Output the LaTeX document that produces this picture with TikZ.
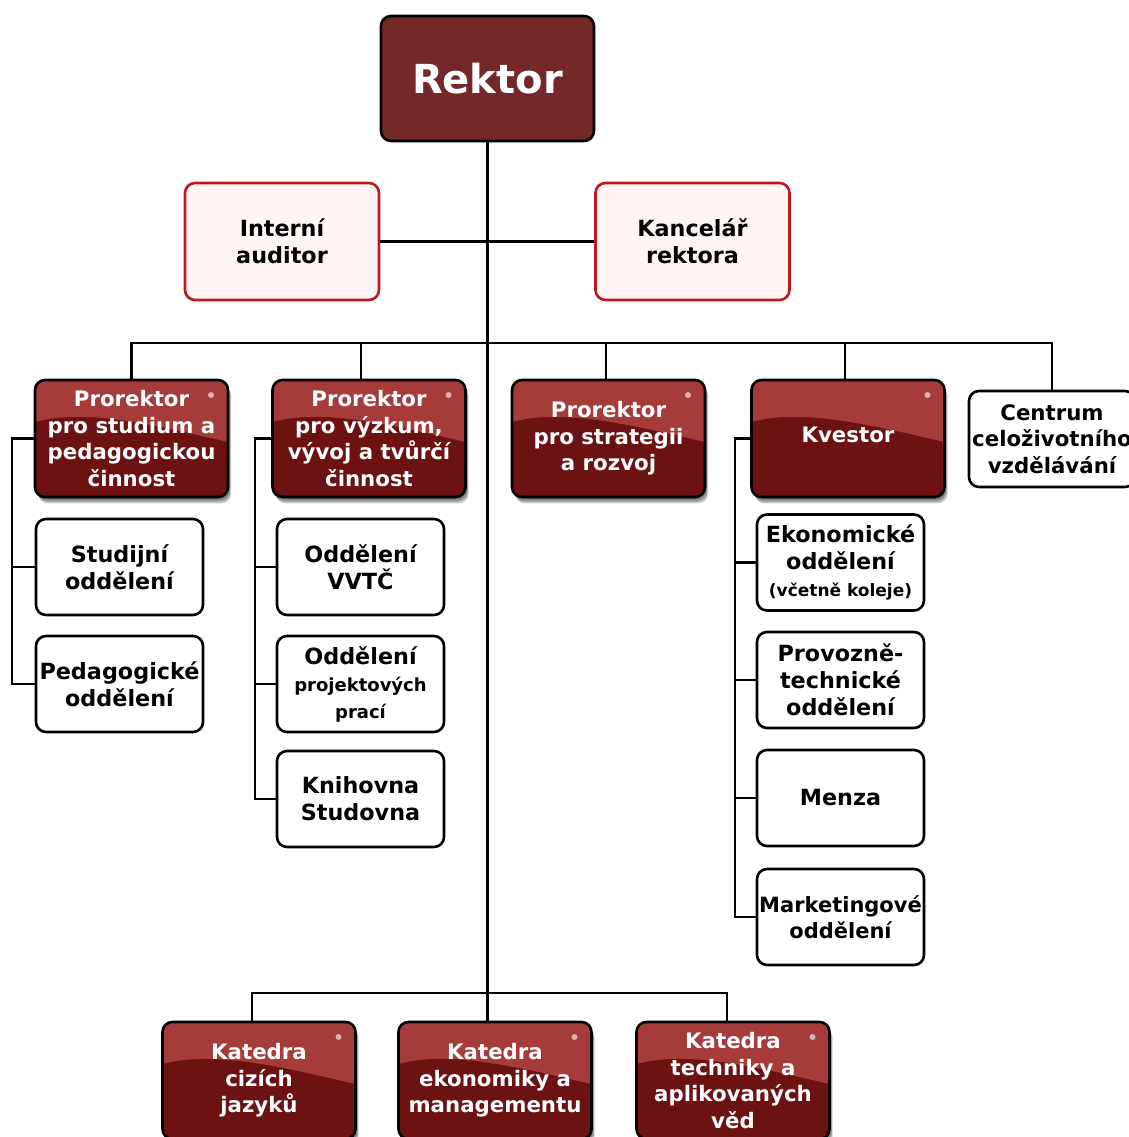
\documentclass[tikz,border=0pt]{standalone}
\usepackage{fontspec}
\setmainfont{DejaVu Sans}
\definecolor{rekred}{HTML}{742828}
\definecolor{glosstop}{HTML}{A63B3B}
\definecolor{glossbot}{HTML}{6C1212}
\definecolor{audred}{HTML}{BE181C}
\definecolor{audfill}{HTML}{FFF5F5}
\tikzset{
  base/.style={rounded corners=10pt, line width=2.6pt, inner sep=0pt, align=center,
    font=\bfseries\fontsize{22.3}{27}\selectfont},
  whitebox/.style={base, draw=black, fill=white, minimum width=167pt, minimum height=96pt},
  audbox/.style={base, draw=audred, fill=audfill, minimum width=194pt, minimum height=117pt},
  rektorbox/.style={base, draw=black, fill=rekred, text=white, minimum width=213pt, minimum height=125pt,
    font=\bfseries\fontsize{40}{48}\selectfont},
  glossbox/.style={base, draw=black, text=white, minimum width=193pt, minimum height=117pt,
    font=\bfseries\fontsize{21.3}{26.6}\selectfont},
  glossshadow/.style={fill=black, opacity=0.2, rounded corners=10pt},
  conn/.style={line width=2.4pt, draw=black}
}
\newcommand{\glossnode}[4]{%
  \begin{scope}[shift={(#2-96.5,#3-58.5)}]
    \foreach \i in {1,...,4} {\fill[glossshadow] (0.8*\i,1.6*\i) rectangle ++(193,117);}
    \begin{scope}
      \clip[rounded corners=10pt] (0,0) rectangle (193,117);
      \fill[glossbot] (0,0) rectangle (193,117);
      \fill[glosstop] (0,0) -- (193,0) -- (193,62) .. controls (120,45) and (50,28) .. (0,42) -- cycle;
      \fill[white, opacity=0.6] (176,15) circle (3);
    \end{scope}
  \end{scope}
  \node[glossbox] (#1) at (#2,#3) {#4};}
\begin{document}
\begin{tikzpicture}[x=1pt, y=-1pt]
\useasboundingbox (0,0) rectangle (1128,1137);
% nodes
\node[rektorbox] (rektor) at (487.5,78.5) {Rektor};
\node[audbox] (aud) at (282,241.5) {Interní\\auditor};
\node[audbox] (kanc) at (692.5,241.5) {Kancelář\\rektora};

\glossnode{p1}{131.5}{438.5}{Prorektor\\pro studium a\\pedagogickou\\činnost}
\glossnode{p2}{369}{438.5}{Prorektor\\pro výzkum,\\vývoj a tvůrčí\\činnost}
\glossnode{p3}{608.5}{438.5}{Prorektor\\pro strategii\\a rozvoj}
\glossnode{kv}{848}{438.5}{\raisebox{7pt}{Kvestor}}
\node[whitebox, minimum width=166pt, font=\bfseries\fontsize{21.3}{26.5}\selectfont] (cen) at (1052,439) {Centrum\\celoživotního\\vzdělávání};

\node[whitebox] (s1) at (119.5,567) {Studijní\\oddělení};
\node[whitebox] (s2) at (119.5,684) {Pedagogické\\oddělení};

\node[whitebox] (v1) at (360.5,567) {Oddělení\\VVTČ};
\node[whitebox] (v2) at (360.5,684) {Oddělení\\{\fontsize{18}{23}\selectfont projektových}\\{\fontsize{18}{23}\selectfont prací}};
\node[whitebox] (v3) at (360.5,799) {Knihovna\\Studovna};

\node[whitebox] (k1) at (840.5,562.5) {Ekonomické\\oddělení\\{\fontsize{17}{23}\selectfont (včetně koleje)}};
\node[whitebox] (k2) at (840.5,680) {Provozně-\\technické\\oddělení};
\node[whitebox] (k3) at (840.5,798) {Menza};
\node[whitebox, font=\bfseries\fontsize{21}{26.5}\selectfont] (k4) at (840.5,917) {Marketingové\\oddělení};

\glossnode{kat1}{259}{1080.5}{Katedra\\cizích\\jazyků}
\glossnode{kat2}{495}{1080.5}{Katedra\\ekonomiky a\\managementu}
\glossnode{kat3}{733}{1080.5}{Katedra\\techniky a\\aplikovaných\\věd}

% bus coordinates
\coordinate (bus1) at (487.5,343);
\coordinate (bus2) at (487.5,993);

% connectors
\draw[conn] (rektor.south) -- (rektor.south |- kat2.north);
\draw[conn] (aud.east) -- (kanc.west);
\draw[conn] (p1.north) |- (bus1);
\draw[conn] ([xshift=-8pt]p2.north) |- (bus1);
\draw[conn] ([xshift=-2.5pt]p3.north) |- (bus1);
\draw[conn] ([xshift=-3pt]kv.north) |- (bus1);
\draw[conn] (cen.north) |- (bus1);
\draw[conn] ([xshift=-7pt]kat1.north) |- (bus2);
\draw[conn] ([xshift=-6pt]kat3.north) |- (bus2);

\draw[conn] (p1.west) -- ++(-22,0) |- (s2.west);
\draw[conn] (s1.west) -- ++(-23,0);
\draw[conn] (p2.west) -- ++(-16,0) |- (v3.west);
\draw[conn] (v1.west) -- ++(-21,0);
\draw[conn] (v2.west) -- ++(-21,0);
\draw[conn] (kv.west) -- ++(-15,0) |- (k4.west);
\draw[conn] (k1.west) -- ++(-21,0);
\draw[conn] (k2.west) -- ++(-21,0);
\draw[conn] (k3.west) -- ++(-21,0);
\end{tikzpicture}
\end{document}
